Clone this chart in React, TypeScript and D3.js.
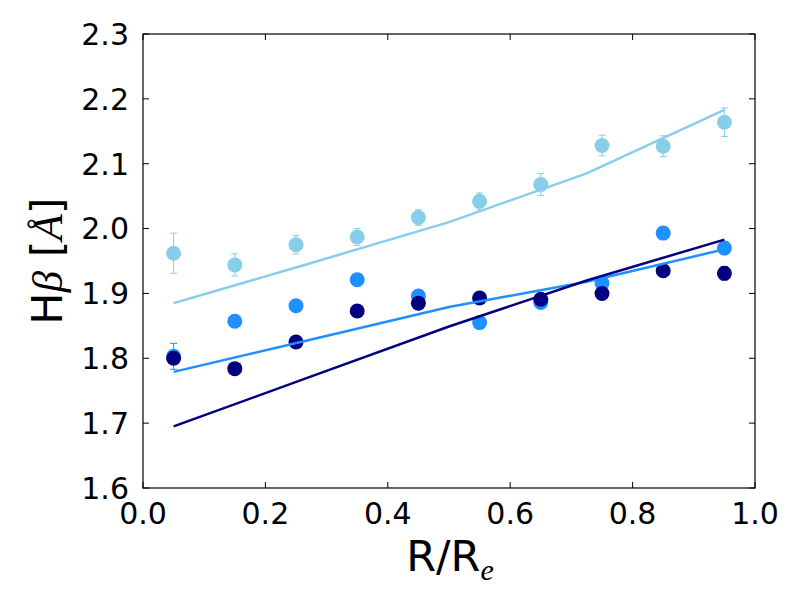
import { useEffect, useRef } from "react";
import * as d3 from "d3";

// radial bins (R/Re)
const radius = [0.05, 0.15, 0.25, 0.35, 0.45, 0.55, 0.65, 0.75, 0.85, 0.95];

// measured H-beta points, one array per series
const skyVals = [1.962, 1.944, 1.975, 1.987, 2.017, 2.042, 2.068, 2.128, 2.127, 2.164];
const skyErr = [0.031, 0.017, 0.014, 0.013, 0.012, 0.013, 0.017, 0.016, 0.016, 0.022];
const dodgerVals = [1.803, 1.857, 1.881, 1.921, 1.896, 1.855, 1.886, 1.916, 1.993, 1.970];
const dodgerErr = [0.02, 0.006, 0.004, 0.004, 0.007, 0.004, 0.006, 0.008, 0.004, 0.01];
const navyVals = [1.800, 1.784, 1.825, 1.873, 1.885, 1.893, 1.891, 1.900, 1.935, 1.931];
const navyErr = [0.004, 0.004, 0.004, 0.004, 0.006, 0.006, 0.006, 0.006, 0.008, 0.01];

// model lines
const modelR = [0.05, 0.275, 0.5, 0.725, 0.95];
const skyModel = [1.885, 1.947, 2.010, 2.085, 2.183];
const dodgerModel = [1.779, 1.829, 1.879, 1.918, 1.968];
const navyModel = [1.695, 1.772, 1.849, 1.920, 1.983];

const xTicks = [0, 0.2, 0.4, 0.6, 0.8, 1.0];
const yTicks = [1.6, 1.7, 1.8, 1.9, 2.0, 2.1, 2.2, 2.3];

const series = [
  { vals: skyVals, err: skyErr, model: skyModel, color: "#87CEEB" },
  { vals: dodgerVals, err: dodgerErr, model: dodgerModel, color: "#1E90FF" },
  { vals: navyVals, err: navyErr, model: navyModel, color: "#000080" },
];

export default function App() {
  const svgRef = useRef(null);

  useEffect(() => {
    const width = 800;
    const height = 600;
    const margin = { top: 34, right: 45, bottom: 112, left: 143 };

    const svg = d3.select(svgRef.current)
      .attr("width", width)
      .attr("height", height);

    svg.selectAll("*").remove();

    const x = d3.scaleLinear().domain([0, 1]).range([margin.left, width - margin.right]);
    const y = d3.scaleLinear().domain([1.6, 2.3]).range([height - margin.bottom, margin.top]);

    const g = svg.append("g");

    // points with error bars
    series.forEach(s => {
      const pts = g.append("g");
      radius.forEach((r, i) => {
        const cx = x(r);
        const y0 = y(s.vals[i] - s.err[i]);
        const y1 = y(s.vals[i] + s.err[i]);
        pts.append("line").attr("x1", cx).attr("x2", cx).attr("y1", y0).attr("y2", y1)
          .attr("stroke", s.color).attr("stroke-width", 1);
        [y0, y1].forEach(yy => {
          pts.append("line").attr("x1", cx - 3.5).attr("x2", cx + 3.5).attr("y1", yy).attr("y2", yy)
            .attr("stroke", s.color).attr("stroke-width", 1);
        });
      });
      pts.selectAll("circle")
        .data(s.vals)
        .join("circle")
        .attr("cx", (d, i) => x(radius[i]))
        .attr("cy", d => y(d))
        .attr("r", 7.5)
        .attr("fill", s.color);
    });

    // model lines
    const line = d3.line<number>()
      .x((d, i) => x(modelR[i]))
      .y(d => y(d));
    series.forEach(s => {
      g.append("path")
        .attr("d", line(s.model))
        .attr("fill", "none")
        .attr("stroke", s.color)
        .attr("stroke-width", 2.5);
    });

    // frame
    const axes = svg.append("g");
    axes.append("rect")
      .attr("x", margin.left).attr("y", margin.top)
      .attr("width", width - margin.left - margin.right)
      .attr("height", height - margin.top - margin.bottom)
      .attr("fill", "none").attr("stroke", "#000").attr("stroke-width", 1.2);

    const font = "DejaVu Sans, sans-serif";

    // ticks inside on all sides
    xTicks.forEach(t => {
      axes.append("line").attr("x1", x(t)).attr("x2", x(t))
        .attr("y1", y(1.6)).attr("y2", y(1.6) - 6).attr("stroke", "#000");
      axes.append("line").attr("x1", x(t)).attr("x2", x(t))
        .attr("y1", y(2.3)).attr("y2", y(2.3) + 6).attr("stroke", "#000");
      axes.append("text").attr("x", x(t)).attr("y", 524)
        .attr("text-anchor", "middle").attr("font-family", font).attr("font-size", 30)
        .text(d3.format(".1f")(t));
    });
    yTicks.forEach(t => {
      axes.append("line").attr("x1", x(0)).attr("x2", x(0) + 6)
        .attr("y1", y(t)).attr("y2", y(t)).attr("stroke", "#000");
      axes.append("line").attr("x1", x(1)).attr("x2", x(1) - 6)
        .attr("y1", y(t)).attr("y2", y(t)).attr("stroke", "#000");
      axes.append("text").attr("x", 129).attr("y", y(t))
        .attr("dy", "0.36em")
        .attr("text-anchor", "end").attr("font-family", font).attr("font-size", 30)
        .text(d3.format(".1f")(t));
    });

    // x label
    const xl = axes.append("text").attr("x", 450).attr("y", 571)
      .attr("text-anchor", "middle").attr("font-family", font).attr("font-size", 43);
    xl.append("tspan").text("R/R");
    xl.append("tspan").attr("dy", 9).attr("font-size", 30)
      .attr("font-family", "Liberation Serif, serif").attr("font-style", "italic").text("e");

    // y label
    const yl = axes.append("text")
      .attr("transform", `translate(62,${(y(1.6) + y(2.3)) / 2}) rotate(-90)`)
      .attr("text-anchor", "middle").attr("font-family", font).attr("font-size", 43);
    yl.append("tspan").text("H");
    yl.append("tspan").attr("font-family", "Liberation Serif, serif").attr("font-style", "italic").text("β");
    yl.append("tspan").text(" [");
    yl.append("tspan").attr("font-family", "Liberation Serif, serif").attr("font-style", "italic").text("Å");
    yl.append("tspan").text("]");
  }, []);

  return (
    <div style={{ position: "absolute", left: 0, top: 0, width: 800, height: 600, background: "#fff" }}>
      <svg ref={svgRef} />
    </div>
  );
}
